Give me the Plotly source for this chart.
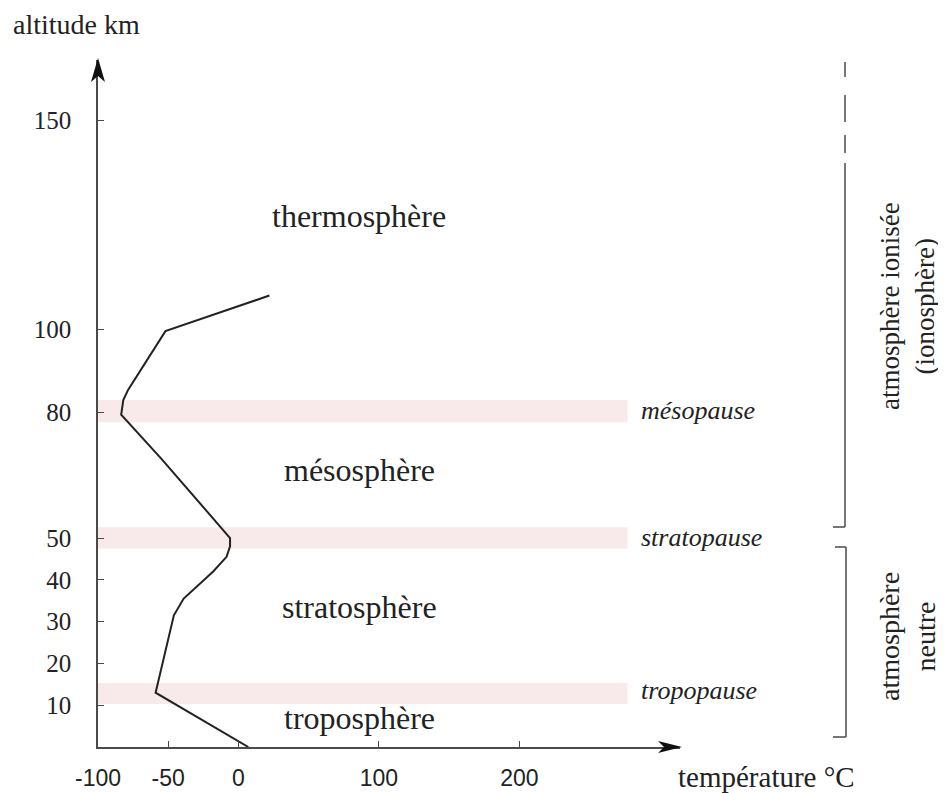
import plotly.graph_objects as go

# ---- data ----
altitude_km = [0, 13, 31.5, 35.5, 42, 45.5, 48, 50, 69, 79.5, 83, 85.5, 99.5, 108]
temperature_c = [7, -59, -46, -39, -18, -8.5, -6, -6, -55, -83.5, -82, -78.5, -52, 22]

pause_names = ["tropopause", "stratopause", "mésopause"]
pause_low_km = [10.3, 47.4, 77.7]
pause_high_km = [15.3, 52.6, 83.0]
pause_label_km = [13.6, 50.2, 80.6]

layer_names = ["troposphère", "stratosphère", "mésosphère", "thermosphère"]
layer_label_km = [6.9, 33.5, 66.3, 127]

y_ticks = [10, 20, 30, 40, 50, 80, 100, 150]
x_ticks = [-100, -50, 0, 100, 200]

# ---- layout geometry (page pixels; the page body has an 8px margin) ----
OFF = 8
W, H = 946 - OFF, 793 - OFF
L, R, T, B = 98, 680, 60, 747          # plot area in page pixels
X_RANGE = [-100, (R - 240) / 1.4]
Y_RANGE = [0, (B - T) / 4.18]
BAND_END_C = 277
LABEL_C = 86
PAUSE_LABEL_C = 285

SERIF = "Liberation Serif"
SANS = "Liberation Sans"
INK = "#222222"
AXIS = "#4a4a4a"


def px(xp):
    return (xp - L) / (R - L)


def py(yp):
    return (B - yp) / (B - T)


fig = go.Figure()

fig.add_trace(go.Scatter(
    x=temperature_c, y=altitude_km, mode="lines",
    line=dict(color=INK, width=2), hoverinfo="skip", showlegend=False,
))

shapes = []
for lo, hi in zip(pause_low_km, pause_high_km):
    shapes.append(dict(type="rect", xref="x", yref="y", x0=X_RANGE[0], x1=BAND_END_C,
                       y0=lo, y1=hi, fillcolor="#f8eaea", line=dict(width=0), layer="below"))

def path(points):
    return "M " + " L ".join(f"{px(a):.5f},{py(b):.5f}" for a, b in points) + " Z"

shapes.append(dict(type="path", xref="paper", yref="paper",
                   path=path([(98, 58), (91, 82), (98, 76), (105, 82)]),
                   fillcolor="#111111", line=dict(width=0)))
shapes.append(dict(type="path", xref="paper", yref="paper",
                   path=path([(682, 747), (658, 741), (664, 747), (658, 753)]),
                   fillcolor="#111111", line=dict(width=0)))

bcol = "#555555"
def seg(x0, y0, x1, y1):
    return dict(type="line", xref="paper", yref="paper", x0=px(x0), y0=py(y0),
                x1=px(x1), y1=py(y1), line=dict(color=bcol, width=1.6))

for a, b in [(62, 77), (95, 122), (135, 153)]:
    shapes.append(seg(845, a, 845, b))
shapes.append(seg(845, 163, 845, 527))
shapes.append(seg(845, 527, 833, 527))
shapes.append(seg(835, 547, 846, 547))
shapes.append(seg(846, 547, 846, 737))
shapes.append(seg(846, 737, 833, 737))

annotations = []
for name, alt in zip(layer_names, layer_label_km):
    annotations.append(dict(x=LABEL_C, y=alt, xref="x", yref="y", text=name, showarrow=False,
                            xanchor="center", yanchor="middle",
                            font=dict(family=SERIF, size=32, color=INK)))
for name, alt in zip(pause_names, pause_label_km):
    annotations.append(dict(x=PAUSE_LABEL_C, y=alt, xref="x", yref="y", text=f"<i>{name}</i>",
                            showarrow=False, xanchor="left", yanchor="middle",
                            font=dict(family=SERIF, size=26, color=INK)))

annotations.append(dict(x=px(11), y=py(24), xref="paper", yref="paper", text="altitude km",
                        showarrow=False, xanchor="left", yanchor="middle",
                        font=dict(family=SERIF, size=28, color=INK)))
annotations.append(dict(x=px(676), y=py(777), xref="paper", yref="paper", text="température °C",
                        showarrow=False, xanchor="left", yanchor="middle",
                        font=dict(family=SERIF, size=29, color=INK)))
annotations.append(dict(x=px(907), y=py(306), xref="paper", yref="paper",
                        text="atmosphère ionisée<br>(ionosphère)", textangle=-90,
                        xanchor="center", yanchor="middle",
                        showarrow=False, font=dict(family=SERIF, size=27, color=INK)))
annotations.append(dict(x=px(907), y=py(637), xref="paper", yref="paper",
                        text="atmosphère<br>neutre", textangle=-90,
                        xanchor="center", yanchor="middle",
                        showarrow=False, font=dict(family=SERIF, size=28, color=INK)))

fig.update_layout(
    width=W, height=H,
    margin=dict(l=L - OFF, r=W - (R - OFF), t=T - OFF, b=H - (B - OFF), pad=0, autoexpand=False),
    paper_bgcolor="white", plot_bgcolor="white",
    shapes=shapes, annotations=annotations, showlegend=False,
    xaxis=dict(range=X_RANGE, tickvals=x_ticks, ticktext=[str(v) for v in x_ticks],
               ticks="inside", ticklen=6, tickwidth=1.3, tickcolor=AXIS, automargin=False,
               showline=True, linecolor=AXIS, linewidth=1.6, showgrid=False, zeroline=False,
               tickfont=dict(family=SANS, size=23, color=INK), ticklabelstandoff=10,
               fixedrange=True),
    yaxis=dict(range=Y_RANGE, tickvals=y_ticks, ticktext=[str(v) for v in y_ticks],
               ticks="inside", ticklen=6, tickwidth=1.3, tickcolor=AXIS, automargin=False,
               showline=True, linecolor=AXIS, linewidth=1.6, showgrid=False, zeroline=False,
               tickfont=dict(family=SERIF, size=25, color=INK), ticklabelstandoff=20,
               fixedrange=True),
)

fig.write_html("out.html")
